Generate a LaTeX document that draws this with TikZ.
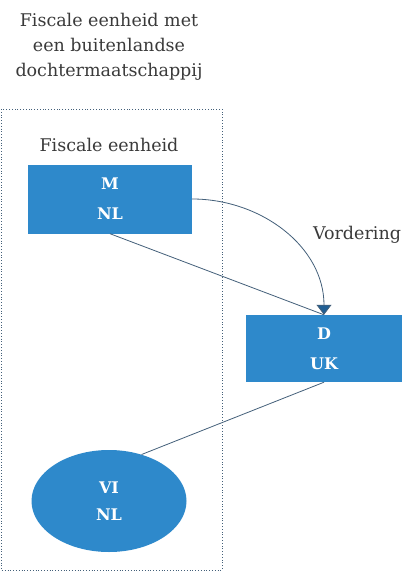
\documentclass[tikz,border=0pt]{standalone}
\usepackage{fontspec}
\setmainfont{DejaVu Serif}
\usetikzlibrary{shapes.geometric,arrows.meta}
\definecolor{boxblue}{HTML}{2E89CB}
\definecolor{linegrey}{HTML}{44607A}
\definecolor{tipblue}{HTML}{1F5E94}
\definecolor{textgrey}{HTML}{3A3A3A}
\tikzset{
  entity/.style={fill=boxblue, draw=none, text=white, font=\bfseries\fontsize{16}{30}\selectfont,
    align=center, inner sep=0pt},
  label/.style={text=textgrey, font=\fontsize{17.5}{25}\selectfont, align=center, inner sep=0pt},
  link/.style={draw=linegrey, line width=0.8pt},
}
\begin{document}
\begin{tikzpicture}[x=1pt,y=-1pt]
  \useasboundingbox (0,0) rectangle (405,579);
  \fill[white] (0,0) rectangle (405,579);
  % boundary of the fiscal unity
  \draw[linegrey, dotted, line width=0.8pt] (1,109) rectangle (222,570);
  % headings
  \node[label] (title) at (109,47) {Fiscale eenheid met\\een buitenlandse\\dochtermaatschappij};
  \node[label] (unit) at (109,145) {Fiscale eenheid};
  \node[label] (claim) at (357,235) {Vordering};
  % entities
  \node[entity, minimum width=164pt, minimum height=69pt] (M) at (110,199) {M\\NL};
  \node[entity, minimum width=156pt, minimum height=67pt] (D) at (324,348.5) {D\\UK};
  \node[entity, ellipse, minimum width=155pt, minimum height=102pt, font=\bfseries\fontsize{16}{27}\selectfont] (VI) at (109,501) {VI\\NL};
  % relations
  \draw[link] (M.south) -- (D.north);
  \draw[link, -{Triangle[width=15pt,length=10pt,fill=tipblue]}] (M.east) to[out=0,in=90] (D.north);
  \draw[link] (D.south) -- (VI.55);
\end{tikzpicture}
\end{document}
